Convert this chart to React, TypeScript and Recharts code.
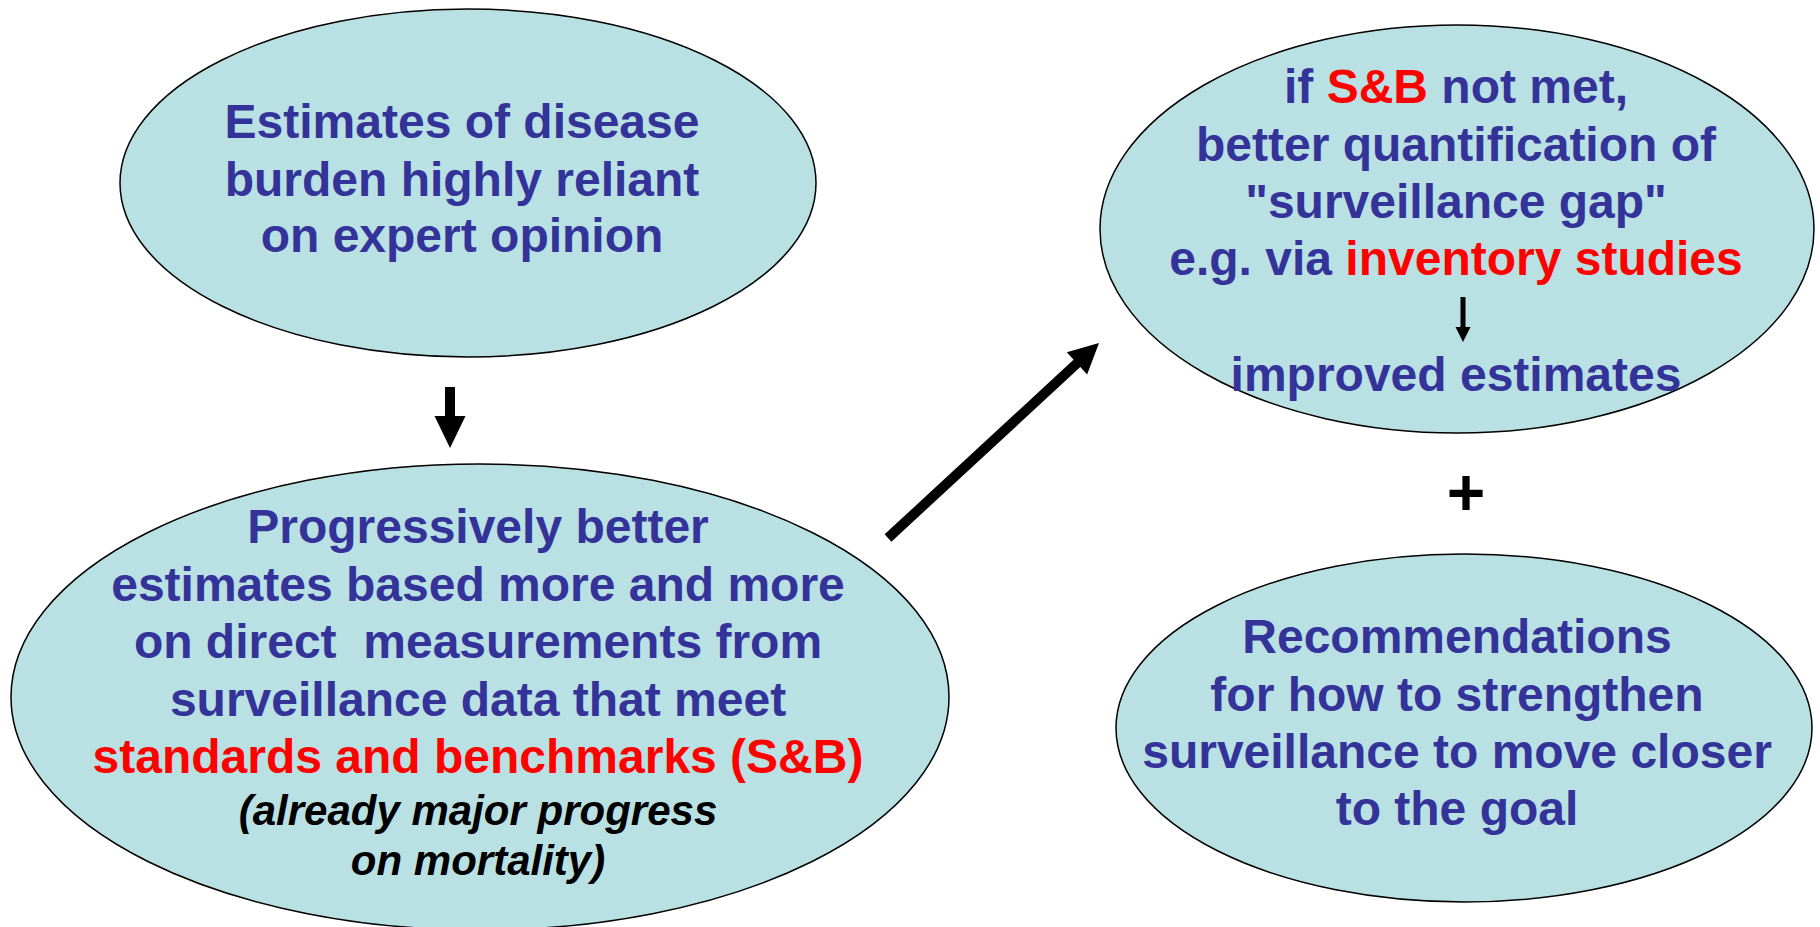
import { ScatterChart, Scatter, XAxis, YAxis, ReferenceDot } from "recharts";

type Tone = "blue" | "red" | "note";
type Seg = { text: string; tone?: Tone };

// text of each bubble, one inner array per line
const burdenLines: Seg[][] = [
  [{ text: "Estimates of disease" }],
  [{ text: "burden highly reliant" }],
  [{ text: "on expert opinion" }],
];

const progressLines: Seg[][] = [
  [{ text: "Progressively better" }],
  [{ text: "estimates based more and more" }],
  [{ text: "on direct  measurements from" }],
  [{ text: "surveillance data that meet" }],
  [{ text: "standards and benchmarks (S&B)", tone: "red" }],
  [{ text: "(already major progress", tone: "note" }],
  [{ text: "on mortality)", tone: "note" }],
];

const gapLines: Seg[][] = [
  [{ text: "if " }, { text: "S&B", tone: "red" }, { text: " not met," }],
  [{ text: "better quantification of" }],
  [{ text: "\"surveillance gap\"" }],
  [{ text: "e.g. via " }, { text: "inventory studies", tone: "red" }],
  [{ text: "improved estimates" }],
];

const recommendLines: Seg[][] = [
  [{ text: "Recommendations" }],
  [{ text: "for how to strengthen" }],
  [{ text: "surveillance to move closer" }],
  [{ text: "to the goal" }],
];

// diagram layout (1 unit = 1px)
const layout = [
  { x: 468, y: 183, rx: 348, ry: 174, tx: 462, base: [138, 196, 252], lines: burdenLines },
  { x: 480, y: 697, rx: 469, ry: 233, tx: 478, base: [543, 601, 658, 716, 773, 825, 875], lines: progressLines },
  { x: 1457, y: 229, rx: 357, ry: 204, tx: 1456, base: [103, 161, 218, 275, 391], lines: gapLines },
  { x: 1464, y: 728, rx: 348, ry: 174, tx: 1457, base: [653, 711, 768, 825], lines: recommendLines },
];

// arrows: start point (x, y) and end point (ex, ey)
const arrows = [
  { x: 450, y: 387, ex: 450, ey: 448, w: 10, hw: 31, hl: 32 },
  { x: 888, y: 538, ex: 1099, ey: 343, w: 10, hw: 30, hl: 30 },
  { x: 1463, y: 297, ex: 1463, ey: 342, w: 5, hw: 15, hl: 15 },
];

const W = 1820;
const H = 927;
const FONT = "'Liberation Sans', Arial, sans-serif";
const toneFill: Record<Tone, string> = { blue: "#333399", red: "#ff0000", note: "#000000" };

function Bubble(props: any) {
  const { cx, cy, payload } = props;
  const dx = cx - payload.x;
  const dy = cy - payload.y;
  return (
    <g>
      <ellipse cx={cx} cy={cy} rx={payload.rx} ry={payload.ry} fill="#b9e0e3" stroke="#000" strokeWidth={1.5} />
      {payload.lines.map((line: Seg[], i: number) => {
        const italic = line[0].tone === "note";
        return (
          <text
            key={i}
            x={payload.tx + dx}
            y={payload.base[i] + dy}
            textAnchor="middle"
            fontFamily={FONT}
            fontWeight="bold"
            fontStyle={italic ? "italic" : "normal"}
            fontSize={italic ? 42 : 48}
            style={{ whiteSpace: "pre" }}
          >
            {line.map((s, j) => (
              <tspan key={j} fill={toneFill[s.tone ?? "blue"]}>
                {s.text}
              </tspan>
            ))}
          </text>
        );
      })}
    </g>
  );
}

function Arrow(props: any) {
  const { cx, cy, payload } = props;
  const { w, hw, hl } = payload;
  const x1 = cx;
  const y1 = cy;
  const x2 = cx + (payload.ex - payload.x);
  const y2 = cy + (payload.ey - payload.y);
  const len = Math.hypot(x2 - x1, y2 - y1);
  const ux = (x2 - x1) / len;
  const uy = (y2 - y1) / len;
  const bx = x2 - ux * hl;
  const by = y2 - uy * hl;
  const px = -uy * (hw / 2);
  const py = ux * (hw / 2);
  return (
    <g>
      <line x1={x1} y1={y1} x2={bx + ux} y2={by + uy} stroke="#000" strokeWidth={w} />
      <polygon points={`${x2},${y2} ${bx + px},${by + py} ${bx - px},${by - py}`} fill="#000" />
    </g>
  );
}

export default function App() {
  return (
    <div style={{ position: "absolute", left: 0, top: 0, background: "#fff" }}>
      <ScatterChart width={W} height={H} margin={{ top: 0, right: 0, bottom: 0, left: 0 }}>
        <XAxis type="number" dataKey="x" domain={[0, W]} hide />
        <YAxis type="number" dataKey="y" domain={[0, H]} reversed hide />
        <Scatter data={layout} shape={Bubble} isAnimationActive={false} />
        <Scatter data={arrows} shape={Arrow} isAnimationActive={false} />
        <ReferenceDot
          x={1466}
          y={493}
          ifOverflow="visible"
          shape={(p: any) => (
            <text x={p.cx} y={p.cy + 22} textAnchor="middle" fontFamily={FONT} fontWeight="bold" fontSize={66} fill="#000">
              +
            </text>
          )}
        />
      </ScatterChart>
    </div>
  );
}
